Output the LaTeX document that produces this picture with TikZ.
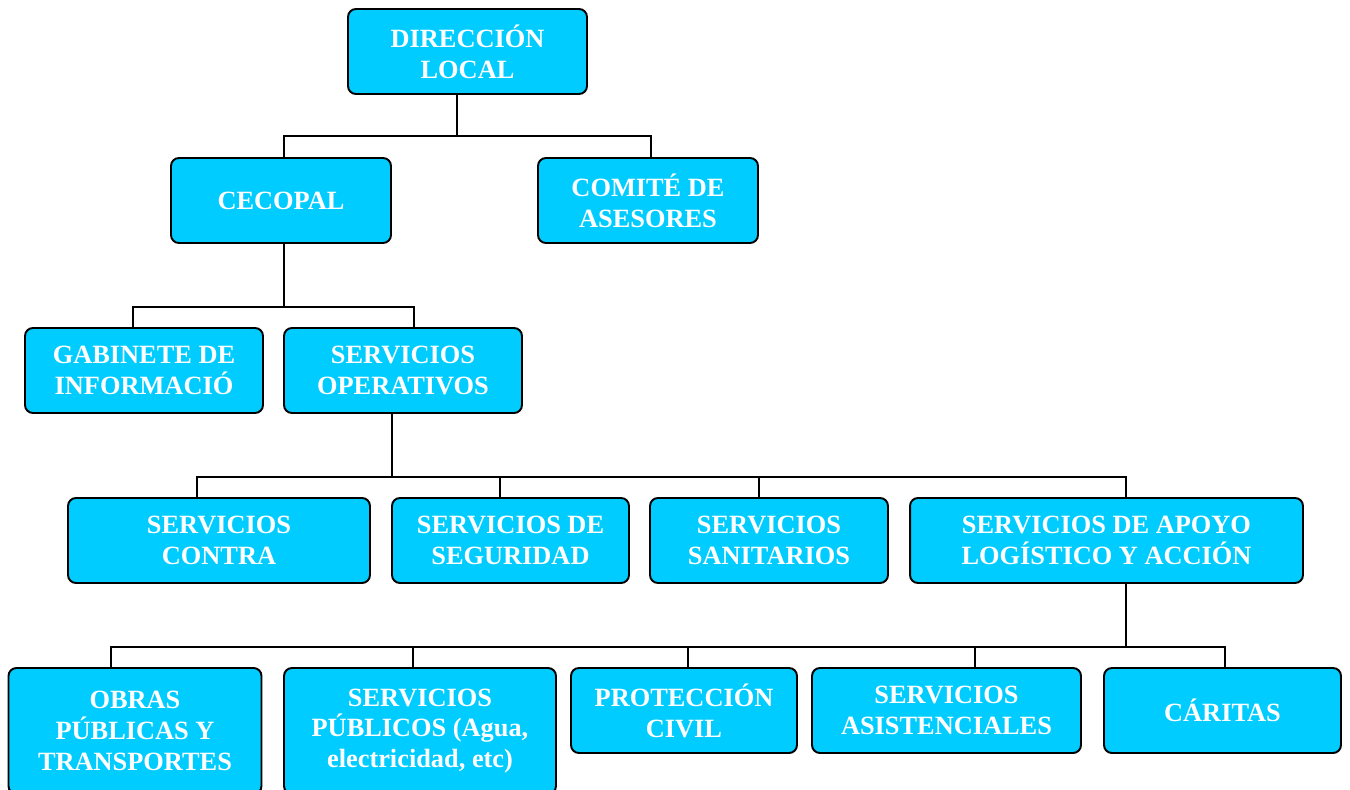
\documentclass[tikz,border=0pt]{standalone}
\usepackage{fontspec}
\setmainfont{Liberation Serif}
\definecolor{celeste}{HTML}{00CCFF}
\tikzset{
  caja/.style={draw=black, line width=1.1pt, fill=celeste, rounded corners=4.5pt,
    minimum height=1.7cm, inner sep=0pt, align=center, text=white,
    font=\fontsize{15}{17.6}\selectfont\bfseries},
  linea/.style={draw=black, line width=1pt}
}
\begin{document}
\begin{tikzpicture}[x=0.02cm, y=-0.02cm]
    \useasboundingbox (0,0) rectangle (1350,789);
    \clip (0,0) rectangle (1350,789);
    % nivel 1 y 2
    \node[caja, minimum width=4.78cm] (dir) at (467.5,51.5) {DIRECCIÓN\\LOCAL};
    \node[caja, minimum width=4.4cm] (cec) at (281,200.5) {CECOPAL};
    \node[caja, minimum width=4.4cm] (com) at (648,200.5) {COMITÉ DE\\ASESORES};
    % nivel 3
    \node[caja, minimum width=4.76cm] (gab) at (144,370.5) {GABINETE DE\\INFORMACIÓ};
    \node[caja, minimum width=4.76cm] (ope) at (403,370.5) {SERVICIOS\\OPERATIVOS};
    % nivel 4
    \node[caja, minimum width=6.04cm] (con) at (219,540.5) {SERVICIOS\\CONTRA};
    \node[caja, minimum width=4.74cm] (seg) at (510.5,540.5) {SERVICIOS DE\\SEGURIDAD};
    \node[caja, minimum width=4.76cm] (san) at (769,540.5) {SERVICIOS\\SANITARIOS};
    \node[caja, minimum width=7.86cm] (apo) at (1106.5,540.5) {SERVICIOS DE APOYO\\LOGÍSTICO Y ACCIÓN};
    % nivel 5
    \node[caja, minimum width=5.06cm, minimum height=2.52cm] (obr) at (135,731) {OBRAS\\PÚBLICAS Y\\TRANSPORTES};
    \node[caja, minimum width=5.44cm, minimum height=2.52cm] (pub) at (420,731) {SERVICIOS\\PÚBLICOS (Agua,\\electricidad, etc)};
    \node[caja, minimum width=4.52cm] (pro) at (684,710.5) {PROTECCIÓN\\CIVIL};
    \node[caja, minimum width=5.38cm] (asi) at (946.5,710.5) {SERVICIOS\\ASISTENCIALES};
    \node[caja, minimum width=4.74cm] (car) at (1222.5,710.5) {CÁRITAS};
    % conectores
    \coordinate (b1) at (457,136);
    \coordinate (b1l) at (284,136);
    \coordinate (b1r) at (651,136);
    \draw[linea] (dir.south -| b1) -- (b1);
    \draw[linea] (b1l |- cec.north) -- (b1l) -- (b1r) -- (b1r |- com.north);
    \coordinate (b2) at (284,307);
    \coordinate (b2l) at (133,307);
    \coordinate (b2r) at (414,307);
    \draw[linea] (cec.south -| b2) -- (b2);
    \draw[linea] (b2l |- gab.north) -- (b2l) -- (b2r) -- (b2r |- ope.north);
    \coordinate (b3) at (392,477);
    \coordinate (b3a) at (197,477);
    \coordinate (b3b) at (500,477);
    \coordinate (b3c) at (759,477);
    \coordinate (b3d) at (1126,477);
    \draw[linea] (ope.south -| b3) -- (b3);
    \draw[linea] (b3a |- con.north) -- (b3a) -- (b3d) -- (b3d |- apo.north);
    \draw[linea] (b3b) -- (b3b |- seg.north);
    \draw[linea] (b3c) -- (b3c |- san.north);
    \coordinate (b4) at (1126,647);
    \coordinate (b4a) at (111,647);
    \coordinate (b4b) at (413,647);
    \coordinate (b4c) at (688,647);
    \coordinate (b4d) at (975,647);
    \coordinate (b4e) at (1225,647);
    \draw[linea] (apo.south -| b4) -- (b4);
    \draw[linea] (b4a |- obr.north) -- (b4a) -- (b4e) -- (b4e |- car.north);
    \draw[linea] (b4b) -- (b4b |- pub.north);
    \draw[linea] (b4c) -- (b4c |- pro.north);
    \draw[linea] (b4d) -- (b4d |- asi.north);
\end{tikzpicture}
\end{document}
